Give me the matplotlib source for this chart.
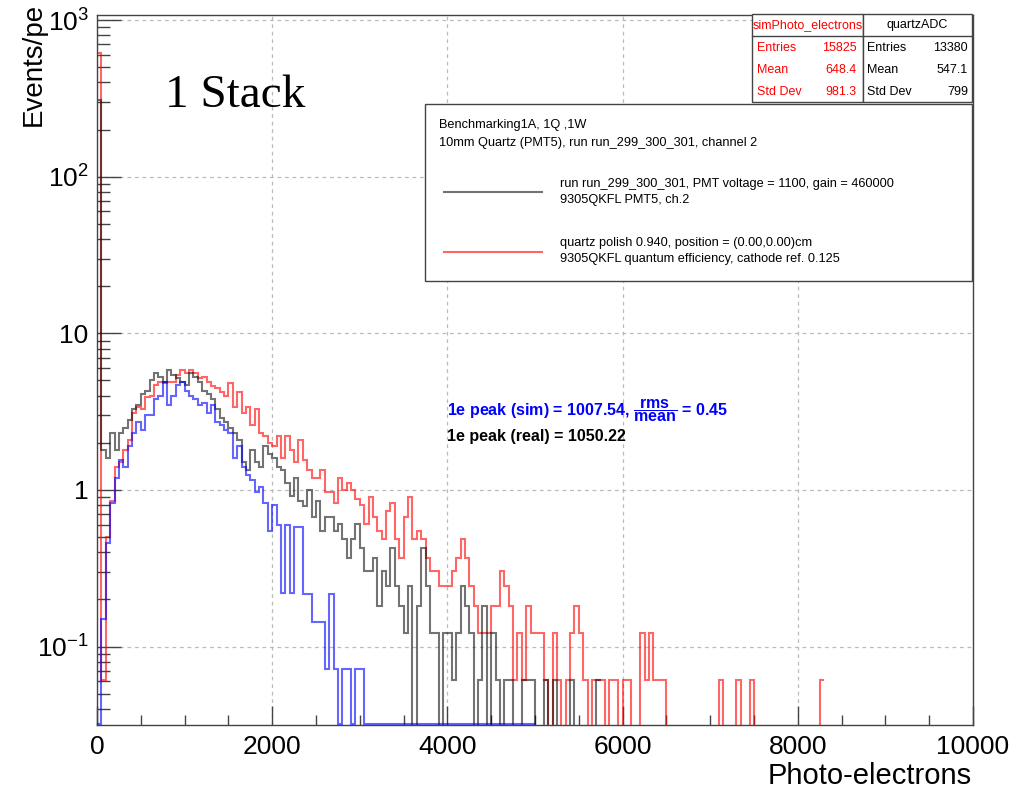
import numpy as np
import matplotlib
matplotlib.use("Agg")
import matplotlib.pyplot as plt
from matplotlib.patches import Rectangle
from matplotlib.lines import Line2D
from matplotlib.ticker import FixedLocator, FixedFormatter, MultipleLocator, LogLocator, NullFormatter

plt.rcParams['font.family'] = ['Liberation Sans', 'DejaVu Sans']
plt.rcParams['mathtext.fontset'] = 'custom'
plt.rcParams['mathtext.rm'] = 'Liberation Sans'
plt.rcParams['mathtext.it'] = 'Liberation Sans:italic'
plt.rcParams['mathtext.bf'] = 'Liberation Sans:bold'

# ---------------- data (bin width 50 photo-electrons, starting at 0) ----------------
bin_width = 50

# quartzADC (real data, black)
real_values = [
    310, 1.8, 1.6, 2.3, 1.8, 2.3, 2.5, 2.8, 3.3, 3.5,
    4.1, 4.3, 5.0, 5.6, 5.3, 4.9, 5.8, 5.4, 5.2, 4.9,
    4.7, 5.6, 5.3, 4.9, 4.3, 4.1, 3.8, 3.3, 2.9, 2.7,
    2.5, 2.3, 2.1, 1.5, 1.35, 1.8, 1.5, 1.4, 1.9, 1.7,
    1.6, 1.4, 1.35, 1.1, 0.92, 1.2, 0.854, 0.793, 1.0, 0.671,
    0.854, 0.549, 0.671, 0.671, 0.549, 0.61, 0.488, 0.366, 0.488, 0.61,
    0.427, 0.305, 0.305, 0.366, 0.183, 0.305, 0.244, 0.427, 0.244, 0.183,
    0.122, 0.244, 0.0, 0.183, 0.427, 0.244, 0.122, 0.122, 0.0, 0.122,
    0.122, 0.061, 0.122, 0.244, 0.183, 0.122, 0.0, 0.061, 0.183, 0.0,
    0.122, 0.061, 0.0, 0.061, 0.061, 0.0, 0.0, 0.061, 0.061, 0.061,
    0.0, 0.0, 0.061, 0.0, 0.061, 0.0, 0.0, 0.0, 0.061, 0.0,
    0.0, 0.0, 0.0, 0.0, 0.061,
]

# simPhoto_electrons (simulation, red)
sim_values = [
    620, 0.061, 0.5, 0.85, 1.4, 1.5, 1.8, 2.1, 3.1, 3.4,
    3.3, 3.9, 4.0, 4.7, 4.9, 4.8, 4.9, 4.9, 5.4, 5.8,
    5.6, 5.8, 5.6, 5.2, 5.3, 4.9, 4.6, 4.5, 4.2, 4.0,
    4.8, 3.4, 4.2, 3.1, 3.4, 2.6, 3.3, 2.3, 2.2, 2.0,
    1.9, 2.2, 1.6, 2.2, 1.8, 1.5, 2.1, 1.55, 1.35, 1.2,
    1.2, 1.35, 0.97, 0.97, 0.83, 1.2, 1.0, 1.1, 1.0, 0.88,
    0.8, 0.61, 0.9, 0.671, 0.549, 0.488, 0.732, 0.83, 0.488, 0.366,
    0.671, 0.9, 0.488, 0.549, 0.488, 0.366, 0.305, 0.305, 0.244, 0.244,
    0.244, 0.305, 0.366, 0.488, 0.366, 0.244, 0.183, 0.122, 0.122, 0.122,
    0.183, 0.183, 0.305, 0.244, 0.183, 0.061, 0.122, 0.061, 0.183, 0.122,
    0.122, 0.122, 0.061, 0.0, 0.122, 0.061, 0.0, 0.061, 0.122, 0.183,
    0.122, 0.061, 0.0, 0.061, 0.061, 0.061, 0.0, 0.061, 0.061, 0.0,
    0.061, 0.061, 0.0, 0.0, 0.122, 0.061, 0.122, 0.061, 0.061, 0.061,
    0.0, 0.0, 0.0, 0.0, 0.0, 0.0, 0.0, 0.0, 0.0, 0.0,
    0.0, 0.0, 0.061, 0.0, 0.0, 0.0, 0.061, 0.0, 0.0, 0.061,
    0.0, 0.0, 0.0, 0.0, 0.0, 0.0, 0.0, 0.0, 0.0, 0.0,
    0.0, 0.0, 0.0, 0.0, 0.0, 0.061,
]

# simulated 1e peak spectrum (blue)
peak_values = [
    0.0, 0.15, 0.46, 0.83, 1.2, 1.55, 1.4, 1.9, 2.3, 2.7,
    2.4, 3.0, 3.0, 3.8, 4.0, 4.9, 3.5, 4.0, 4.7, 4.9,
    4.3, 4.0, 3.8, 3.5, 3.6, 3.1, 3.5, 2.7, 2.6, 2.4,
    2.3, 1.6, 1.9, 1.4, 1.25, 1.15, 0.97, 1.05, 0.83, 0.55,
    0.8, 0.6, 0.22, 0.6, 0.22, 0.58, 0.58, 0.216, 0.216, 0.144,
    0.144, 0.144, 0.072, 0.216, 0.072, 0.0, 0.072, 0.072, 0.0, 0.072,
    0.072, 0.0, 0.0, 0.0, 0.0, 0.0, 0.0, 0.0, 0.0, 0.0,
    0.0, 0.0, 0.0, 0.0, 0.0, 0.0, 0.0, 0.0, 0.0, 0.0,
    0.0, 0.0, 0.0, 0.0, 0.0, 0.0, 0.0, 0.0, 0.0, 0.0,
    0.0, 0.0, 0.0, 0.0, 0.0, 0.0, 0.0, 0.0, 0.0, 0.0,
]

x_ticks = [0, 2000, 4000, 6000, 8000, 10000]
x_tick_labels = ["0", "2000", "4000", "6000", "8000", "10000"]
y_ticks = [0.1, 1, 10, 100, 1000]
y_tick_labels = [r"$10^{-1}$", "1", "10", r"$10^{2}$", r"$10^{3}$"]

sim_stats = [("Entries", "15825"), ("Mean", "648.4"), ("Std Dev", "981.3")]
real_stats = [("Entries", "13380"), ("Mean", "547.1"), ("Std Dev", "799")]

# ---------------- figure ----------------
W, H = 1014, 793
fig = plt.figure(figsize=(W / 100, H / 100), dpi=100)

def fx(x):
    return x / W

def fy(y):
    return 1 - y / H

L, R, T, B = 97, 973, 15, 725
ax = fig.add_axes([fx(L), fy(B), (R - L) / W, (B - T) / H])

ymin, ymax = 0.0316, 1077
ax.set_xlim(0, 10000)
ax.set_yscale('log')
ax.set_ylim(ymin, ymax)

def draw_hist(vals, color, alpha, z, floor):
    v = np.asarray(vals, dtype=float)
    edges = np.arange(len(v) + 1) * bin_width
    v = np.maximum(v, floor)
    ax.stairs(v, edges, baseline=None, color=color, alpha=alpha, lw=1.5, zorder=z)

draw_hist(sim_values, 'red', 0.6, 2.0, ymin * 0.9)
draw_hist(real_values, 'black', 0.55, 2.2, ymin * 0.9)
draw_hist(peak_values, 'blue', 0.6, 3.5, ymin * 1.01)

# axes styling
for s in ax.spines.values():
    s.set_color('#444444')
    s.set_linewidth(1.0)
    s.set_zorder(3)

ax.xaxis.set_major_locator(FixedLocator(x_ticks))
ax.xaxis.set_major_formatter(FixedFormatter(x_tick_labels))
ax.xaxis.set_minor_locator(MultipleLocator(500))
ax.yaxis.set_major_locator(FixedLocator(y_ticks))
ax.yaxis.set_major_formatter(FixedFormatter(y_tick_labels))
ax.yaxis.set_minor_locator(LogLocator(base=10, subs=np.arange(2, 10), numticks=20))
ax.yaxis.set_minor_formatter(NullFormatter())

ax.tick_params(axis='x', which='major', direction='in', length=14, width=1, color='#444444',
               labelsize=19, pad=7, top=False)
ax.tick_params(axis='x', which='minor', direction='in', length=7, width=1, color='#444444', top=False)
ax.tick_params(axis='y', which='major', direction='in', length=17, width=1, color='#444444',
               labelsize=19, pad=6, right=False)
ax.tick_params(axis='y', which='minor', direction='in', length=9, width=1, color='#444444', right=False)

ax.grid(True, which='major', linestyle=(0, (3, 3)), color='#bbbbbb', lw=0.9)
ax.set_axisbelow(True)

# axis titles
fig.text(fx(34), fy(3), "Events/pe", rotation=90, ha='center', va='top', fontsize=20)
fig.text(fx(972), fy(784), "Photo-electrons", ha='right', va='baseline', fontsize=21)

# "1 Stack"
fig.text(fx(165), fy(107), "1 Stack", family=['Liberation Serif'], fontsize=34, ha='left', va='baseline')

# ---------------- stats boxes ----------------
def frect(x0, y0, x1, y1, lw=1.0, ec='#444444'):
    r = Rectangle((fx(x0), fy(y1)), (x1 - x0) / W, (y1 - y0) / H, transform=fig.transFigure,
                  facecolor='white', edgecolor=ec, lw=lw, zorder=5)
    fig.add_artist(r)

def fline(x0, y0, x1, y1, color='#444444', lw=1.0, alpha=1.0):
    fig.add_artist(Line2D([fx(x0), fx(x1)], [fy(y0), fy(y1)], transform=fig.transFigure,
                          color=color, lw=lw, alpha=alpha, zorder=6))

frect(752, 14, 863, 102)
frect(863, 14, 972, 102)
fline(752, 36, 972, 36)
fs_stat = 9
fig.text(fx(807.5), fy(25), "simPhoto_electrons", color='red', ha='center', va='center', fontsize=fs_stat, zorder=7)
fig.text(fx(917.5), fy(25), "quartzADC", color='black', ha='center', va='center', fontsize=fs_stat, zorder=7)
for i, ((l1, v1), (l2, v2)) in enumerate(zip(sim_stats, real_stats)):
    yy = 48 + i * 22
    fig.text(fx(757), fy(yy), l1, color='red', ha='left', va='center', fontsize=fs_stat, zorder=7)
    fig.text(fx(857), fy(yy), v1, color='red', ha='right', va='center', fontsize=fs_stat, zorder=7)
    fig.text(fx(867), fy(yy), l2, color='black', ha='left', va='center', fontsize=fs_stat, zorder=7)
    fig.text(fx(968), fy(yy), v2, color='black', ha='right', va='center', fontsize=fs_stat, zorder=7)

# ---------------- legend box ----------------
frect(425, 104, 972, 281)
fs_leg = 9.2
fig.text(fx(439), fy(125), "Benchmarking1A, 1Q ,1W", ha='left', va='center', fontsize=fs_leg, zorder=7)
fig.text(fx(439), fy(143), "10mm Quartz (PMT5), run run_299_300_301, channel 2", ha='left', va='center',
         fontsize=fs_leg, zorder=7)
fline(444, 192, 542, 192, color='black', lw=1.5, alpha=0.55)
fline(444, 252, 542, 252, color='red', lw=1.5, alpha=0.6)
fig.text(fx(560), fy(184), "run run_299_300_301, PMT voltage = 1100, gain = 460000", ha='left', va='center',
         fontsize=fs_leg, zorder=7)
fig.text(fx(560), fy(200), "9305QKFL PMT5, ch.2", ha='left', va='center', fontsize=fs_leg, zorder=7)
fig.text(fx(560), fy(243), "quartz polish 0.940, position = (0.00,0.00)cm", ha='left', va='center',
         fontsize=fs_leg, zorder=7)
fig.text(fx(560), fy(259), "9305QKFL quantum efficiency, cathode ref. 0.125", ha='left', va='center',
         fontsize=fs_leg, zorder=7)

# ---------------- annotations ----------------
fig.text(fx(447), fy(410), r"1e peak (sim) = 1007.54, $\dfrac{\mathbf{rms}}{\mathbf{mean}}$ = 0.45",
         color='blue', fontweight='bold', ha='left', va='center', fontsize=11.5)
fig.text(fx(447), fy(437), "1e peak (real) = 1050.22", color='black', fontweight='bold',
         ha='left', va='center', fontsize=11.5)

fig.savefig("out.png", dpi=100)
